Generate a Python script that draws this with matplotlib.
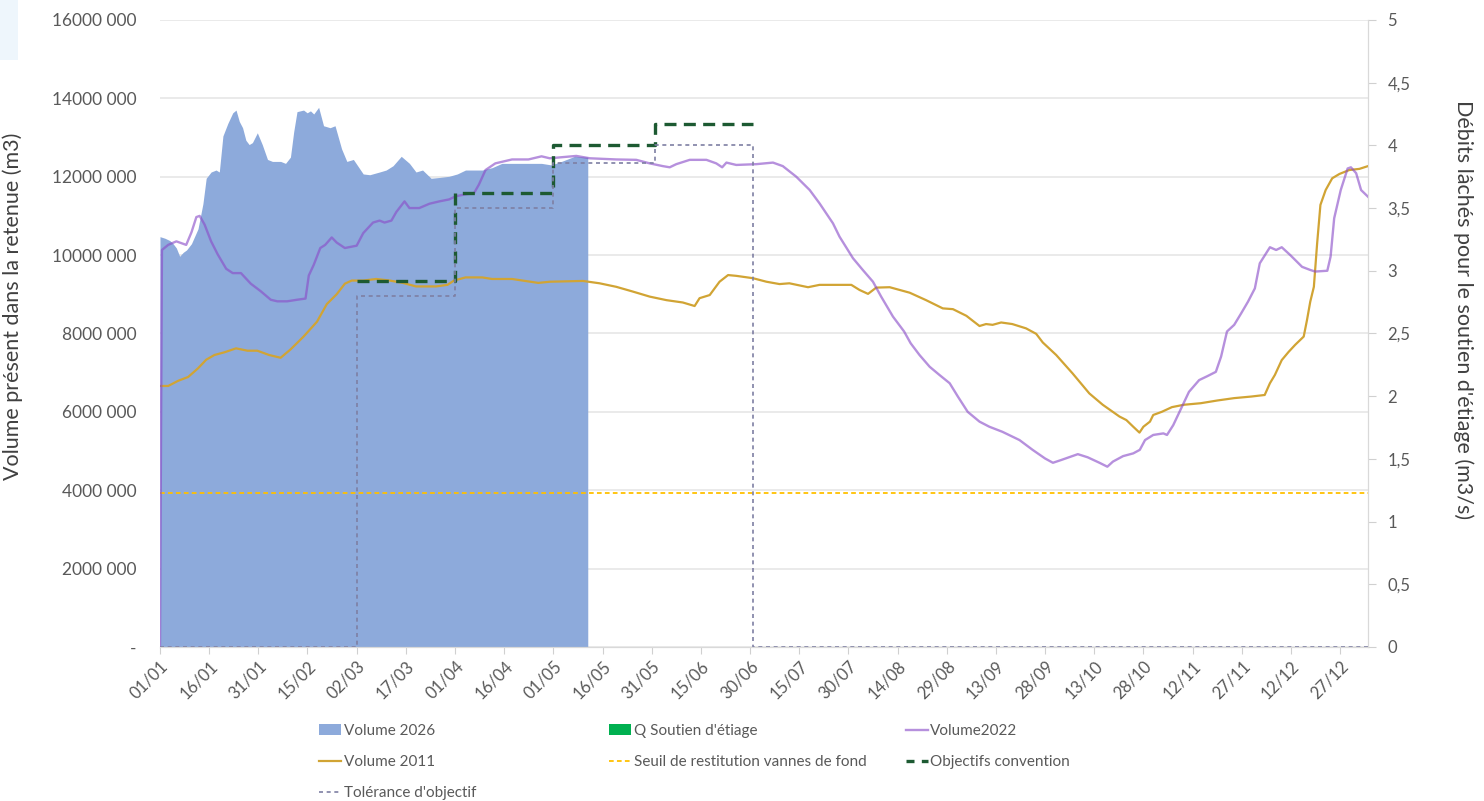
"""Volume de la retenue et objectifs de soutien d'étiage."""

import matplotlib
matplotlib.use("Agg")
import matplotlib.pyplot as plt
from matplotlib.lines import Line2D
from matplotlib.patches import Patch, Rectangle
from matplotlib.ticker import FuncFormatter, MultipleLocator

plt.rcParams["font.family"] = ["Lato", "DejaVu Sans"]

# ---------------------------------------------------------------------------
# Data (x = day of year, 0 = 01/01 ; volumes in millions of m3 ; flows in m3/s)
# ---------------------------------------------------------------------------

tick_days = list(range(0, 361, 15))
tick_labels = ["01/01", "16/01", "31/01", "15/02", "02/03", "17/03", "01/04",
               "16/04", "01/05", "16/05", "31/05", "15/06", "30/06", "15/07",
               "30/07", "14/08", "29/08", "13/09", "28/09", "13/10", "28/10",
               "12/11", "27/11", "12/12", "27/12"]

vol2026_days = [0, 1.5, 3, 4, 5, 6, 7.1, 8.1, 9.6, 11.6, 13.1, 14.1, 15.6, 17.1,
                18.1, 19.2, 20.7, 22.2, 23.2, 24.2, 25.2, 26.2, 27.2, 28.2, 29.7,
                31.2, 32.8, 34.3, 36.8, 38.3, 39.8, 40.8, 41.8, 43.8, 44.9, 45.9,
                46.9, 48.4, 49.9, 51.9, 53.4, 55.4, 57, 59, 62, 64, 67, 69, 71.1,
                73.6, 76.1, 78.1, 80.1, 82.7, 85.2, 88.2, 90.7, 93.2, 98.3, 101.3,
                104.3, 108.4, 116.4, 119.4, 122.5, 126.5, 130.5]
vol2026 = [10.47, 10.43, 10.37, 10.29, 10.18, 9.97, 10.07, 10.13, 10.29, 10.67,
           11.31, 11.96, 12.12, 12.17, 12.12, 13.04, 13.36, 13.63, 13.70, 13.41,
           13.25, 12.93, 12.82, 12.87, 13.12, 12.82, 12.44, 12.39, 12.39, 12.34,
           12.50, 13.15, 13.66, 13.70, 13.63, 13.68, 13.60, 13.77, 13.30, 13.25,
           13.30, 12.71, 12.39, 12.44, 12.07, 12.05, 12.12, 12.17, 12.28, 12.52,
           12.34, 12.12, 12.17, 11.96, 11.98, 12.01, 12.07, 12.17, 12.17, 12.23,
           12.34, 12.34, 12.34, 12.30, 12.39, 12.52, 12.50]

vol2022_days = [0, 0.6, 2.5, 5, 7, 8, 9.6, 11.1, 12.1, 13.6, 15.6, 17.6, 20.2,
                22.2, 24.7, 27.7, 30.7, 33.8, 35.8, 38.8, 41.8, 44.4, 45.4, 46.9,
                48.9, 50.4, 52.4, 53.9, 56.4, 60, 62, 65, 67, 68.5, 70.6, 72.1,
                74.6, 76.1, 79.1, 82.2, 85.2, 88.2, 90.2, 93.2, 95.8, 97.3, 99.3,
                102.3, 107.4, 112.4, 116.4, 118.9, 127, 131.1, 139.2, 145.3, 149.4,
                153.4, 155.5, 157.5, 161.6, 166.7, 169.7, 171.5, 172.8, 175.8,
                181.9, 187, 190, 194.1, 198.2, 201.2, 205.3, 207.3, 211.4, 214.4,
                217.5, 220, 223.6, 227, 229, 231.7, 234.8, 237.8, 240.9, 243.4,
                246.4, 250, 253, 257, 262.2, 266.2, 270, 272.4, 274.9, 280, 283,
                286.6, 289, 290.7, 293.8, 296.9, 298.9, 300.5, 303, 306.1, 307.2,
                309.1, 311.3, 313.9, 317, 319.5, 322.1, 323.7, 325.5, 327.7, 329.8,
                331.9, 334, 335.5, 338.6, 340.5, 342.2, 344.8, 348.4, 350.9, 352.4,
                356.1, 357.1, 358.2, 360.2, 362.3, 363.3, 364.9, 366.4, 368.5]
vol2022 = [0, 10.13, 10.26, 10.35, 10.29, 10.26, 10.58, 10.97, 11.00, 10.78,
           10.35, 10.02, 9.65, 9.54, 9.54, 9.27, 9.08, 8.86, 8.82, 8.82, 8.86,
           8.89, 9.48, 9.75, 10.18, 10.26, 10.45, 10.32, 10.18, 10.24, 10.56,
           10.83, 10.88, 10.83, 10.88, 11.10, 11.37, 11.20, 11.20, 11.31, 11.37,
           11.42, 11.50, 11.55, 11.58, 11.80, 12.17, 12.34, 12.44, 12.44, 12.52,
           12.47, 12.53, 12.47, 12.44, 12.43, 12.34, 12.27, 12.24, 12.32, 12.43,
           12.43, 12.34, 12.24, 12.36, 12.30, 12.32, 12.36, 12.27, 12.00, 11.66,
           11.32, 10.81, 10.47, 9.92, 9.62, 9.32, 8.94, 8.43, 8.05, 7.75, 7.45,
           7.15, 6.94, 6.73, 6.39, 6.00, 5.75, 5.62, 5.49, 5.28, 5.03, 4.81, 4.70,
           4.77, 4.92, 4.84, 4.70, 4.60, 4.73, 4.87, 4.94, 5.03, 5.28, 5.41, 5.45,
           5.41, 5.66, 6.05, 6.51, 6.81, 6.91, 7.02, 7.41, 8.05, 8.22, 8.51, 8.81,
           9.15, 9.79, 10.20, 10.13, 10.20, 10.00, 9.70, 9.62, 9.58, 9.60, 9.96,
           10.94, 11.66, 12.21, 12.24, 12.09, 11.66, 11.49]

vol2011_days = [0, 2.5, 5.5, 8.6, 11.6, 14.1, 16.6, 19.7, 23.2, 26.7, 29.7, 33.3,
                36.8, 39.8, 43.8, 47.9, 50.9, 53.9, 56.4, 58.5, 62, 66, 70.1, 74.1,
                78.1, 84.2, 87.7, 89.7, 93.2, 98.3, 101.3, 107.4, 115.4, 118.9, 129,
                134.1, 139.2, 144.2, 149.4, 154.5, 159.5, 163.1, 164.6, 167.7, 170.7,
                173.3, 175.8, 180.9, 185, 189, 192, 197.7, 201.2, 207.3, 210.9,
                213.4, 216, 218.5, 222.6, 228.7, 233.7, 238.8, 241.9, 246, 250, 252,
                254, 256.6, 260, 264.2, 267.3, 269.3, 273.4, 278.4, 283.5, 287.6,
                292.7, 294.8, 296.9, 298.8, 300, 302, 303, 305.6, 308.7, 312.3,
                317.5, 322.6, 327.7, 332.9, 337, 338.6, 340.1, 342.2, 344.3, 346.3,
                348.9, 349.9, 350.9, 352, 353, 354, 355.6, 357.6, 359.8, 362.8,
                365.9, 368.5]
vol2011 = [6.66, 6.66, 6.79, 6.89, 7.11, 7.33, 7.45, 7.52, 7.62, 7.56, 7.56, 7.45,
           7.38, 7.59, 7.92, 8.30, 8.75, 9.00, 9.27, 9.35, 9.35, 9.39, 9.35, 9.29,
           9.20, 9.20, 9.24, 9.35, 9.43, 9.43, 9.39, 9.39, 9.29, 9.32, 9.34, 9.28,
           9.19, 9.07, 8.94, 8.85, 8.79, 8.70, 8.90, 8.98, 9.32, 9.49, 9.47, 9.41,
           9.32, 9.26, 9.28, 9.18, 9.24, 9.24, 9.24, 9.11, 9.01, 9.17, 9.18, 9.04,
           8.85, 8.64, 8.62, 8.45, 8.19, 8.24, 8.22, 8.28, 8.24, 8.13, 7.99, 7.77,
           7.45, 6.98, 6.47, 6.18, 5.88, 5.79, 5.62, 5.47, 5.62, 5.75, 5.92, 6.00,
           6.12, 6.18, 6.22, 6.29, 6.35, 6.39, 6.43, 6.73, 6.94, 7.32, 7.53, 7.71,
           7.92, 8.34, 8.81, 9.19, 10.30, 11.28, 11.66, 11.96, 12.07, 12.17, 12.20,
           12.27]

seuil_vannes = 3.93          # millions of m3
q_soutien = []               # no release recorded yet (legend only)

objectif_days = [60, 90, 120, 151, 181]
objectif_q = [2.92, 3.62, 4.00, 4.17, 4.17]

tolerance_days = [0, 60, 90, 120, 151, 181, 368.5]
tolerance_q = [0, 2.80, 3.50, 3.86, 4.00, 0, 0]

# ---------------------------------------------------------------------------
# Colours
# ---------------------------------------------------------------------------

C_2026 = "#8DAADB"
C_2022 = "#8A4CC8"
C_2011 = "#D1A434"
C_SEUIL = "#FFC000"
C_OBJ = "#1D5A32"
C_TOL = "#7E7FA3"
C_Q = "#00B050"
C_TXT = "#595959"
C_GRID = "#E4E4E4"


def fmt_volume(v, _pos):
    if v == 0:
        return "-"
    return f"{int(round(v / 1000))} 000"


def fmt_flow(v, _pos):
    return f"{v:g}".replace(".", ",")


fig = plt.figure(figsize=(14.84, 8.01), dpi=100)
ax = fig.add_axes([0.1078, 0.1923, 0.8140, 0.7828])
ax2 = ax.twinx()

# left axis: volumes
fill = ax.fill_between(vol2026_days, [v * 1e6 for v in vol2026], 0,
                       color=C_2026, linewidth=0, zorder=1, label="Volume 2026")
ln2011, = ax.plot(vol2011_days, [v * 1e6 for v in vol2011], color=C_2011,
                  lw=1.6, zorder=3, label="Volume 2011")
ln2022, = ax.plot(vol2022_days, [v * 1e6 for v in vol2022], color=C_2022,
                  alpha=0.62, lw=1.7, zorder=4, label="Volume2022")
lnseuil = ax.axhline(seuil_vannes * 1e6, color=C_SEUIL, lw=1.3,
                     linestyle=(0, (2.6, 1.8)), zorder=3,
                     label="Seuil de restitution vannes de fond")

ax.set_xlim(0, 368.5)
ax.set_ylim(0, 16e6)
ax.yaxis.set_major_locator(MultipleLocator(2e6))
ax.yaxis.set_major_formatter(FuncFormatter(fmt_volume))
ax.grid(axis="y", color=C_GRID, lw=1.1)
ax.set_axisbelow(True)

ax.set_xticks(tick_days)
ax.set_xticklabels(tick_labels, rotation=45, ha="right", va="top",
                   rotation_mode="anchor")
ax.tick_params(axis="x", colors="#D0D0D0", labelcolor=C_TXT, labelsize=12,
               length=5, pad=3)
ax.tick_params(axis="y", length=0, labelcolor=C_TXT, labelsize=12.5, pad=17)

# right axis: flows
lnobj, = ax2.plot(objectif_days, objectif_q, drawstyle="steps-post",
                  color=C_OBJ, lw=2.4, linestyle=(0, (3.6, 2.2)),
                  label="Objectifs convention")
lntol, = ax2.plot(tolerance_days, tolerance_q, drawstyle="steps-post",
                  color=C_TOL, lw=1.2, linestyle=(0, (2.4, 2.2)),
                  clip_on=False, label="Tolérance d'objectif")
ax2.bar(q_soutien, q_soutien, color=C_Q)
ax2.set_ylim(0, 5)
ax2.yaxis.set_major_locator(MultipleLocator(0.5))
ax2.yaxis.set_major_formatter(FuncFormatter(fmt_flow))
ax2.tick_params(axis="y", colors="#D0D0D0", labelcolor=C_TXT, labelsize=12,
                length=6, pad=8)

for a in (ax, ax2):
    for side in ("top", "left"):
        a.spines[side].set_visible(False)
    a.spines["bottom"].set_color("#D9D9D9")
    a.spines["right"].set_color("#D9D9D9")

# axis titles
fig.text(0.986, 0.613, "Débits lâchés pour le soutien d'étiage (m3/s)",
         rotation=-90, ha="center", va="center", fontsize=15.5, color="#404040")
fig.text(0.0085, 0.617, "Volume présent dans la retenue (m3)", rotation=90,
         ha="center", va="center", fontsize=15.5, color="#404040")
fig.patches.append(Rectangle((0, 0.925), 0.012, 0.075, transform=fig.transFigure,
                             facecolor="#EEF6FC", edgecolor="none", zorder=-1))

# legend: three columns placed like the spreadsheet layout
q_handle = Patch(facecolor=C_Q, label="Q Soutien d'étiage")
obj_handle = Line2D([], [], color=C_OBJ, lw=2.4, linestyle=(0, (2.4, 2.2)),
                    label="Objectifs convention")
columns = [
    ([fill, ln2011, lntol], 0.2150),
    ([q_handle, lnseuil], 0.4105),
    ([ln2022, obj_handle], 0.6105),
]
for handles, x0 in columns:
    leg = fig.legend(handles=handles, loc="upper left",
                     bbox_to_anchor=(x0, 0.096), frameon=False, fontsize=11,
                     handlelength=1.45, handletextpad=0.15, labelspacing=1.11,
                     borderpad=0, borderaxespad=0)
    for t in leg.get_texts():
        t.set_color(C_TXT)

fig.savefig("out.png", dpi=100)
